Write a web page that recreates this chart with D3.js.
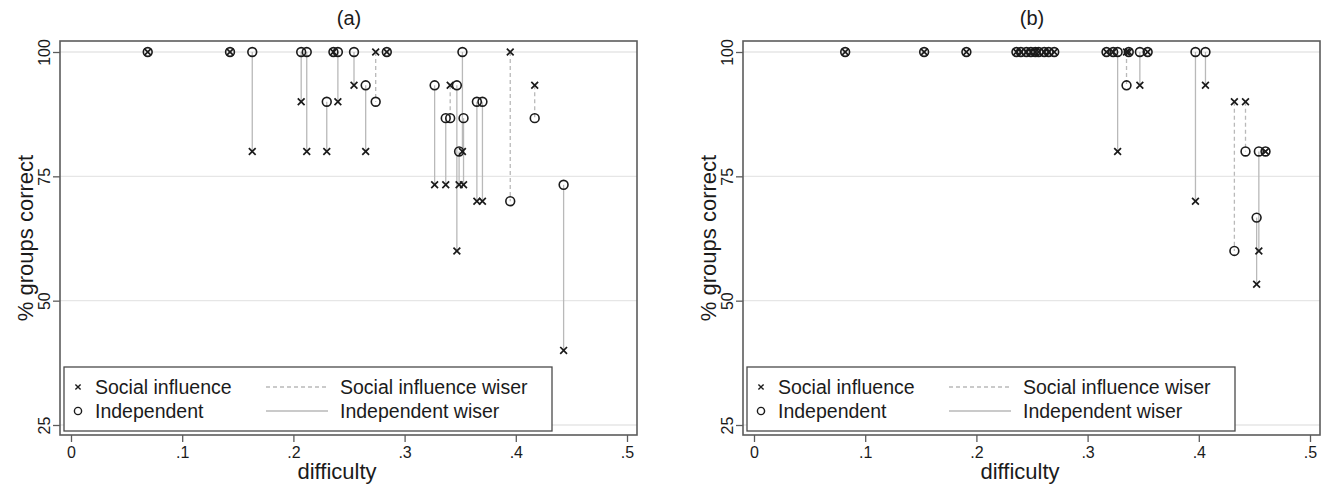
<!DOCTYPE html>
<html>
<head>
<meta charset="utf-8">
<script src="https://cdn.jsdelivr.net/npm/d3@7"></script>
<style>
  html, body { margin: 0; padding: 0; background: #fff; }
  svg { display: block; font-family: "Liberation Sans", Arial, Helvetica, sans-serif; }
</style>
</head>
<body>
<svg id="chart" width="1326" height="490"></svg>
<script>
// ---- data -------------------------------------------------------------
const panelTitles = ["(a)", "(b)"];
const xTicks = [0, 0.1, 0.2, 0.3, 0.4, 0.5];
const xTickLabels = ["0", ".1", ".2", ".3", ".4", ".5"];
const yTicks = [25, 50, 75, 100];
const yTickLabels = ["25", "50", "75", "100"];
const xTitle = "difficulty";
const yTitle = "% groups correct";
const legendLabels = ["Social influence", "Independent", "Social influence wiser", "Independent wiser"];

// panel (a)
const difficultyA  = [0.069, 0.143, 0.163, 0.207, 0.212, 0.230, 0.236, 0.240, 0.2545, 0.265, 0.274, 0.284,
                      0.327, 0.337, 0.341, 0.347, 0.349, 0.352, 0.353, 0.365, 0.370, 0.395, 0.417, 0.443];
const socialA      = [100, 100, 80, 90, 80, 80, 100, 90, 93.3, 80, 100, 100,
                      73.3, 73.3, 93.3, 60, 73.3, 80, 73.3, 70, 70, 100, 93.3, 40];
const independentA = [100, 100, 100, 100, 100, 90, 100, 100, 100, 93.3, 90, 100,
                      93.3, 86.7, 86.7, 93.3, 80, 100, 86.7, 90, 90, 70, 86.7, 73.3];

// panel (b)
const difficultyB  = [0.082, 0.153, 0.191, 0.236, 0.240, 0.245, 0.249, 0.253, 0.256, 0.261, 0.265, 0.270,
                      0.317, 0.323, 0.327, 0.335, 0.337, 0.347, 0.354, 0.397, 0.406, 0.432, 0.442, 0.452, 0.454, 0.460];
const socialB      = [100, 100, 100, 100, 100, 100, 100, 100, 100, 100, 100, 100,
                      100, 100, 80, 100, 100, 93.3, 100, 70, 93.3, 90, 90, 53.3, 60, 80];
const independentB = [100, 100, 100, 100, 100, 100, 100, 100, 100, 100, 100, 100,
                      100, 100, 100, 93.3, 100, 100, 100, 100, 100, 60, 80, 66.7, 80, 80];

// ---- layout -----------------------------------------------------------
const panels = [
  { title: panelTitles[0], dx: 0,   d: difficultyA, s: socialA, ind: independentA },
  { title: panelTitles[1], dx: 683, d: difficultyB, s: socialB, ind: independentB }
];
const frame = { left: 60, right: 637, top: 41, bottom: 435 };
const x = d3.scaleLinear().domain([0, 0.5]).range([71, 627]);
const y = d3.scaleLinear().domain([25, 100]).range([425, 52]);

const ink = "#1b1b1b";
const connectorColor = "#b9b9b9";
const gridColor = "#e6e6e6";
const frameColor = "#5c5c5c";

const crossPath = s => `M${-s},${-s}L${s},${s}M${-s},${s}L${s},${-s}`;

const svg = d3.select("#chart");

panels.forEach(p => {
  const g = svg.append("g").attr("transform", `translate(${p.dx},0)`);

  // gridlines
  g.selectAll("line.grid").data(yTicks).join("line")
    .attr("class", "grid")
    .attr("x1", frame.left).attr("x2", frame.right)
    .attr("y1", d => y(d)).attr("y2", d => y(d))
    .attr("stroke", gridColor).attr("stroke-width", 1.4);

  // plot frame
  g.append("rect")
    .attr("x", frame.left).attr("y", frame.top)
    .attr("width", frame.right - frame.left).attr("height", frame.bottom - frame.top)
    .attr("fill", "none").attr("stroke", frameColor).attr("stroke-width", 1.6);

  // x axis
  const xa = g.append("g").attr("transform", `translate(0,${frame.bottom})`)
    .call(d3.axisBottom(x).tickValues(xTicks).tickFormat((d, i) => xTickLabels[i])
      .tickSize(7).tickPadding(5));
  xa.select(".domain").remove();
  xa.selectAll(".tick line").attr("stroke", frameColor).attr("stroke-width", 1.3);
  xa.selectAll(".tick text").attr("fill", ink).attr("font-size", 16)
    .attr("font-family", "Liberation Sans, Arial, sans-serif");

  // y axis with rotated labels
  const ya = g.append("g").attr("transform", `translate(${frame.left},0)`)
    .call(d3.axisLeft(y).tickValues(yTicks).tickFormat((d, i) => yTickLabels[i]).tickSize(7));
  ya.select(".domain").remove();
  ya.selectAll(".tick line").attr("stroke", frameColor).attr("stroke-width", 1.3);
  ya.selectAll(".tick text")
    .attr("x", null).attr("dy", null)
    .attr("transform", "translate(-10,0) rotate(-90)")
    .attr("text-anchor", "middle")
    .attr("fill", ink).attr("font-size", 16)
    .attr("font-family", "Liberation Sans, Arial, sans-serif");

  // titles
  g.append("text").attr("x", 349).attr("y", 25).attr("text-anchor", "middle")
    .attr("font-size", 20).attr("fill", ink).text(p.title);
  g.append("text").attr("x", 337).attr("y", 479).attr("text-anchor", "middle")
    .attr("font-size", 22).attr("fill", ink).text(xTitle);
  g.append("text").attr("transform", `translate(33,${(frame.top + frame.bottom) / 2}) rotate(-90)`)
    .attr("text-anchor", "middle").attr("font-size", 22).attr("fill", ink).text(yTitle);

  // observations
  const rows = p.d.map((d, i) => ({ d, s: p.s[i], ind: p.ind[i] }));

  // connectors: solid when the independent groups did better, dashed when social influence did
  g.selectAll("line.conn").data(rows.filter(r => r.s !== r.ind)).join("line")
    .attr("class", "conn")
    .attr("x1", r => x(r.d)).attr("x2", r => x(r.d))
    .attr("y1", r => y(r.s)).attr("y2", r => y(r.ind))
    .attr("stroke", connectorColor).attr("stroke-width", 1.3)
    .attr("stroke-dasharray", r => r.s > r.ind ? "4,3" : null);

  // social influence markers
  g.selectAll("path.si").data(rows).join("path")
    .attr("class", "si")
    .attr("transform", r => `translate(${x(r.d)},${y(r.s)})`)
    .attr("d", crossPath(3.4))
    .attr("stroke", ink).attr("stroke-width", 1.7).attr("fill", "none");

  // independent markers
  g.selectAll("circle.ind").data(rows).join("circle")
    .attr("class", "ind")
    .attr("cx", r => x(r.d)).attr("cy", r => y(r.ind)).attr("r", 4.4)
    .attr("fill", "none").attr("stroke", ink).attr("stroke-width", 1.6);

  // legend
  const lg = g.append("g");
  lg.append("rect").attr("x", 64).attr("y", 367).attr("width", 488).attr("height", 64)
    .attr("fill", "#fff").attr("stroke", "#4a4a4a").attr("stroke-width", 1.3);
  const rowY = [387, 411];
  lg.append("path").attr("transform", `translate(78,${rowY[0]})`).attr("d", crossPath(2.6))
    .attr("stroke", ink).attr("stroke-width", 1.4).attr("fill", "none");
  lg.append("circle").attr("cx", 78).attr("cy", rowY[1]).attr("r", 3.6)
    .attr("fill", "none").attr("stroke", ink).attr("stroke-width", 1.4);
  lg.append("line").attr("x1", 266).attr("x2", 328).attr("y1", rowY[0]).attr("y2", rowY[0])
    .attr("stroke", connectorColor).attr("stroke-width", 1.3).attr("stroke-dasharray", "4,3");
  lg.append("line").attr("x1", 266).attr("x2", 328).attr("y1", rowY[1]).attr("y2", rowY[1])
    .attr("stroke", connectorColor).attr("stroke-width", 1.3);
  const lx = [95, 95, 340, 340];
  const ly = [rowY[0], rowY[1], rowY[0], rowY[1]];
  legendLabels.forEach((t, i) => {
    lg.append("text").attr("x", lx[i]).attr("y", ly[i]).attr("dy", "0.36em")
      .attr("font-size", 19.5).attr("fill", ink).text(t);
  });
});
</script>
</body>
</html>
